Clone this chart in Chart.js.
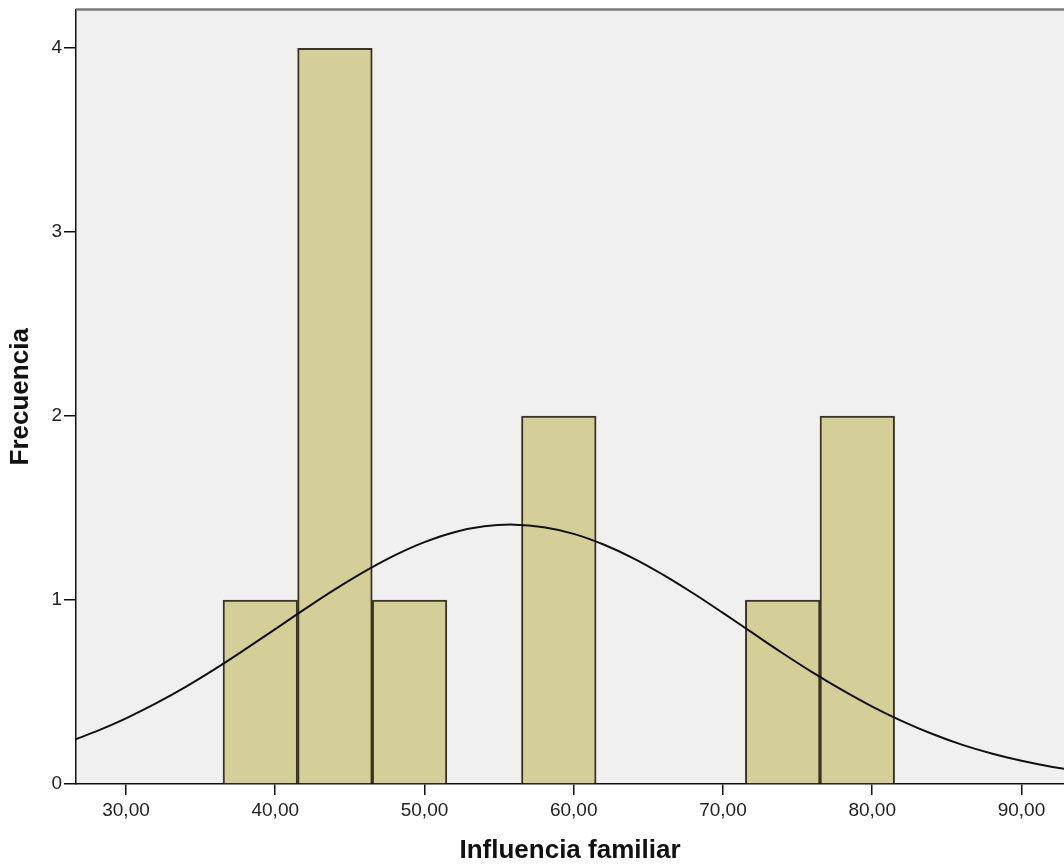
<!DOCTYPE html>
<html>
<head>
<meta charset="utf-8">
<script src="https://cdn.jsdelivr.net/npm/chart.js@4/dist/chart.umd.min.js"></script>
<style>
html,body{margin:0;padding:0;background:#fff;}
#wrap{width:1064px;height:864px;position:relative;}
</style>
</head>
<body>
<div id="wrap"><canvas id="chart"></canvas></div>
<script>
// histogram bins (centre of each 5-wide bin) and counts
const binCenters=[39,44,49,59,74,79];
const counts=[1,4,1,2,1,2];
// normal curve
const curveX=[26,28,30,32,34,36,38,40,42,44,46,48,50,52,54,56,58,60,62,64,66,68,70,72,74,76,78,80,82,84,86,88,90,92,94];
const curveY=[0.225,0.286,0.357,0.438,0.528,0.627,0.733,0.842,0.952,1.058,1.156,1.243,1.315,1.369,1.401,1.410,1.396,1.360,1.302,1.227,1.137,1.037,0.930,0.820,0.711,0.607,0.510,0.421,0.342,0.273,0.214,0.166,0.126,0.094,0.069];
const xTicks=[30,40,50,60,70,80,90];
const xTickLabels=['30,00','40,00','50,00','60,00','70,00','80,00','90,00'];
const yTicks=[0,1,2,3,4];

const font='"Liberation Sans", Arial, sans-serif';

const plotBg={
  id:'plotBg',
  beforeDraw(chart){
    const {ctx,chartArea:a}=chart;
    ctx.save();
    ctx.fillStyle='#f0f0f0';
    ctx.fillRect(a.left,a.top,a.right-a.left,a.bottom-a.top);
    ctx.restore();
  },
  afterDraw(chart){
    const {ctx,chartArea:a}=chart;
    ctx.save();
    ctx.strokeStyle='#7a7a7a';
    ctx.lineWidth=2.5;
    ctx.beginPath();
    ctx.moveTo(a.left,a.top);
    ctx.lineTo(a.right,a.top);
    ctx.stroke();
    ctx.restore();
  }
};

new Chart(document.getElementById('chart'),{
  type:'bar',
  data:{datasets:[
    {type:'line',order:0,data:curveX.map((x,i)=>({x,y:curveY[i]})),
     borderColor:'#111',borderWidth:2,pointRadius:0,tension:0.4,fill:false},
    {type:'bar',order:1,data:binCenters.map((x,i)=>({x,y:counts[i]})),
     backgroundColor:'#d4cf98',borderColor:'#3a3622',borderWidth:2,
     barPercentage:1,categoryPercentage:1}
  ]},
  options:{
    responsive:true,maintainAspectRatio:false,animation:false,
    layout:{padding:{top:9,right:0,left:0,bottom:0}},
    plugins:{legend:{display:false},tooltip:{enabled:false}},
    scales:{
      x:{type:'linear',min:26.65,max:92.85,offset:false,
        afterBuildTicks:s=>{s.ticks=xTicks.map(v=>({value:v}));},
        afterFit:s=>{s.height=80;},
        ticks:{callback:(v)=>xTickLabels[xTicks.indexOf(v)],color:'#222',font:{family:font,size:19},padding:4,maxRotation:0},
        grid:{offset:false,drawOnChartArea:false,color:'#111',tickLength:11,lineWidth:1.5},
        border:{color:'#111',width:1.5},
        title:{display:true,text:'Influencia familiar',color:'#111',font:{family:font,size:26,weight:'bold',lineHeight:1},padding:{top:0,bottom:0}}
      },
      y:{min:0,max:4.21,
        afterBuildTicks:s=>{s.ticks=yTicks.map(v=>({value:v}));},
        afterFit:s=>{s.width=76;},
        ticks:{color:'#222',font:{family:font,size:19,lineHeight:0.8},padding:2},
        grid:{drawOnChartArea:false,color:'#111',tickLength:12,lineWidth:1.5},
        border:{color:'#111',width:1.5},
        title:{display:true,text:'Frecuencia',color:'#111',font:{family:font,size:26,weight:'bold',lineHeight:1},padding:{top:8,bottom:0}}
      }
    }
  },
  plugins:[plotBg]
});
</script>
</body>
</html>
